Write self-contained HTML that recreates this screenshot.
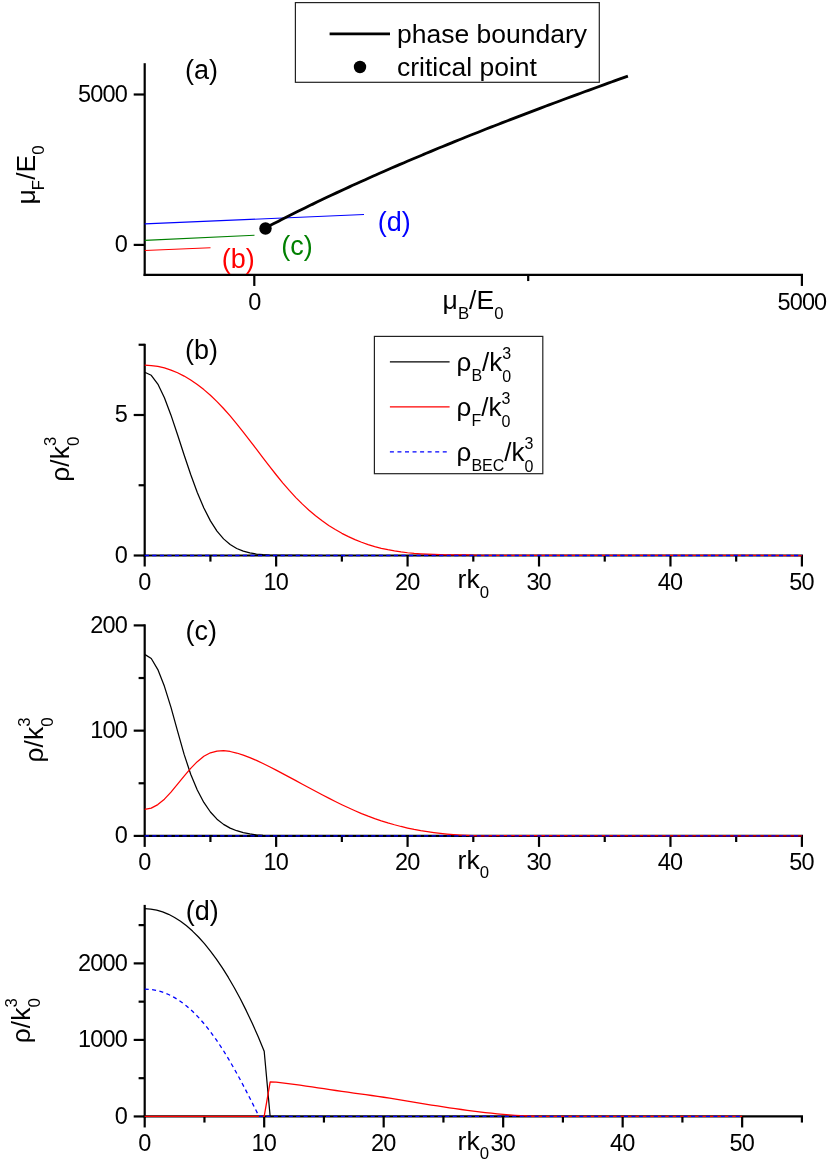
<!DOCTYPE html>
<html><head><meta charset="utf-8"><title>chart</title>
<style>
html,body{margin:0;padding:0;background:#fff;}
svg{display:block;font-family:"Liberation Sans", sans-serif;will-change:transform;opacity:0.999;}
text{font-family:"Liberation Sans", sans-serif;}
.tk{letter-spacing:-0.85px;}
</style></head>
<body>
<svg width="830" height="1165" viewBox="0 0 830 1165">
<rect x="0" y="0" width="830" height="1165" fill="#fff"/>
<line x1="144.70" y1="63.20" x2="144.70" y2="276.05" stroke="#000" stroke-width="2.2" />
<line x1="143.60" y1="274.95" x2="803.00" y2="274.95" stroke="#000" stroke-width="2.2" />
<line x1="133.70" y1="94.50" x2="144.70" y2="94.50" stroke="#000" stroke-width="2.2" />
<line x1="133.70" y1="244.90" x2="144.70" y2="244.90" stroke="#000" stroke-width="2.2" />
<line x1="254.30" y1="274.95" x2="254.30" y2="285.95" stroke="#000" stroke-width="2.2" />
<line x1="801.90" y1="274.95" x2="801.90" y2="285.95" stroke="#000" stroke-width="2.2" />
<line x1="528.20" y1="274.95" x2="528.20" y2="281.05" stroke="#000" stroke-width="2.2" />
<text x="126.95" y="101.80" font-size="23.5" text-anchor="end" fill="#000" class="tk">5000</text>
<text x="126.95" y="252.20" font-size="23.5" text-anchor="end" fill="#000" class="tk">0</text>
<text x="254.30" y="309.55" font-size="23.5" text-anchor="middle" fill="#000" class="tk">0</text>
<text x="801.90" y="309.55" font-size="23.5" text-anchor="middle" fill="#000" class="tk">5000</text>
<line x1="144.70" y1="223.90" x2="364.00" y2="214.50" stroke="#0000ff" stroke-width="1.15" />
<line x1="144.70" y1="240.40" x2="254.50" y2="235.30" stroke="#008000" stroke-width="1.15" />
<line x1="144.70" y1="250.50" x2="210.50" y2="247.70" stroke="#ff0000" stroke-width="1.15" />
<path d="M265.50,227.91 C266.81,227.23 270.75,225.17 273.38,223.81 C276.00,222.46 278.63,221.11 281.26,219.77 C283.88,218.43 286.51,217.10 289.13,215.78 C291.76,214.46 294.39,213.15 297.01,211.85 C299.64,210.54 302.27,209.25 304.89,207.96 C307.52,206.67 310.14,205.39 312.77,204.12 C315.40,202.85 318.02,201.59 320.65,200.33 C323.27,199.07 325.90,197.82 328.53,196.58 C331.15,195.34 333.78,194.11 336.40,192.88 C339.03,191.65 341.66,190.43 344.28,189.22 C346.91,188.01 349.53,186.80 352.16,185.60 C354.79,184.40 357.41,183.21 360.04,182.02 C362.67,180.83 365.29,179.65 367.92,178.47 C370.54,177.30 373.17,176.13 375.80,174.97 C378.42,173.81 381.05,172.65 383.67,171.50 C386.30,170.35 388.93,169.20 391.55,168.06 C394.18,166.92 396.80,165.78 399.43,164.65 C402.06,163.52 404.68,162.40 407.31,161.28 C409.93,160.16 412.56,159.05 415.19,157.94 C417.81,156.83 420.44,155.73 423.07,154.63 C425.69,153.53 428.32,152.43 430.94,151.34 C433.57,150.25 436.20,149.17 438.82,148.08 C441.45,147.00 444.07,145.93 446.70,144.85 C449.33,143.78 451.95,142.71 454.58,141.65 C457.20,140.58 459.83,139.52 462.46,138.47 C465.08,137.41 467.71,136.36 470.33,135.31 C472.96,134.26 475.59,133.22 478.21,132.18 C480.84,131.14 483.47,130.10 486.09,129.07 C488.72,128.03 491.34,127.00 493.97,125.98 C496.60,124.95 499.22,123.93 501.85,122.91 C504.47,121.89 507.10,120.87 509.73,119.86 C512.35,118.85 514.98,117.84 517.60,116.83 C520.23,115.82 522.86,114.82 525.48,113.82 C528.11,112.82 530.73,111.82 533.36,110.82 C535.99,109.83 538.61,108.84 541.24,107.85 C543.87,106.86 546.49,105.87 549.12,104.89 C551.74,103.91 554.37,102.92 557.00,101.95 C559.62,100.97 562.25,99.99 564.87,99.02 C567.50,98.05 570.13,97.07 572.75,96.11 C575.38,95.14 578.00,94.17 580.63,93.21 C583.26,92.24 585.88,91.28 588.51,90.32 C591.13,89.37 593.76,88.41 596.39,87.45 C599.01,86.50 601.64,85.55 604.27,84.60 C606.89,83.65 609.52,82.70 612.14,81.75 C614.77,80.81 617.40,79.86 620.02,78.92 C622.65,77.98 626.59,76.57 627.90,76.10" fill="none" stroke="#000" stroke-width="2.8" stroke-linecap="butt"/>
<circle cx="265.5" cy="228.5" r="6.2" fill="#000"/>
<text x="185.00" y="78.60" font-size="27" text-anchor="start" fill="#000" >(a)</text>
<text x="221.70" y="267.60" font-size="27" text-anchor="start" fill="#ff0000" >(b)</text>
<text x="281.30" y="254.90" font-size="27" text-anchor="start" fill="#008000" >(c)</text>
<text x="377.80" y="231.00" font-size="27" text-anchor="start" fill="#0000ff" >(d)</text>
<rect x="295.4" y="2.6" width="303.9" height="79.7" fill="#fff" stroke="#222" stroke-width="1.2"/>
<line x1="329.60" y1="33.90" x2="390.00" y2="33.90" stroke="#000" stroke-width="2.6" />
<circle cx="360" cy="67" r="6.2" fill="#000"/>
<text x="397.00" y="43.20" font-size="26.5" text-anchor="start" fill="#000" >phase boundary</text>
<text x="397.00" y="75.60" font-size="26.5" text-anchor="start" fill="#000" >critical point</text>
<text x="442.6" y="309.2" font-size="26.5">&#956;<tspan font-size="16.8" dy="9.3">B</tspan><tspan dy="-9.3">/E</tspan><tspan font-size="16.8" dy="9.3">0</tspan></text>
<text transform="translate(35.1,204.6) rotate(-90)" font-size="26.5">&#956;<tspan font-size="16.8" dx="-0.8" dy="9.3">F</tspan><tspan dy="-9.3">/E</tspan><tspan font-size="16.8" dy="9.3">0</tspan></text>
<line x1="144.70" y1="343.80" x2="144.70" y2="556.60" stroke="#000" stroke-width="2.2" />
<line x1="143.60" y1="555.50" x2="803.00" y2="555.50" stroke="#000" stroke-width="2.2" />
<line x1="133.70" y1="555.50" x2="144.70" y2="555.50" stroke="#000" stroke-width="2.2" />
<text x="126.95" y="562.80" font-size="23.5" text-anchor="end" fill="#000" class="tk">0</text>
<line x1="133.70" y1="415.00" x2="144.70" y2="415.00" stroke="#000" stroke-width="2.2" />
<text x="126.95" y="422.30" font-size="23.5" text-anchor="end" fill="#000" class="tk">5</text>
<line x1="138.60" y1="485.25" x2="144.70" y2="485.25" stroke="#000" stroke-width="2.2" />
<line x1="138.60" y1="344.75" x2="144.70" y2="344.75" stroke="#000" stroke-width="2.2" />
<line x1="144.70" y1="555.50" x2="144.70" y2="566.50" stroke="#000" stroke-width="2.2" />
<line x1="210.42" y1="555.50" x2="210.42" y2="561.60" stroke="#000" stroke-width="2.2" />
<line x1="276.14" y1="555.50" x2="276.14" y2="566.50" stroke="#000" stroke-width="2.2" />
<line x1="341.86" y1="555.50" x2="341.86" y2="561.60" stroke="#000" stroke-width="2.2" />
<line x1="407.58" y1="555.50" x2="407.58" y2="566.50" stroke="#000" stroke-width="2.2" />
<line x1="473.30" y1="555.50" x2="473.30" y2="561.60" stroke="#000" stroke-width="2.2" />
<line x1="539.02" y1="555.50" x2="539.02" y2="566.50" stroke="#000" stroke-width="2.2" />
<line x1="604.74" y1="555.50" x2="604.74" y2="561.60" stroke="#000" stroke-width="2.2" />
<line x1="670.46" y1="555.50" x2="670.46" y2="566.50" stroke="#000" stroke-width="2.2" />
<line x1="736.18" y1="555.50" x2="736.18" y2="561.60" stroke="#000" stroke-width="2.2" />
<line x1="801.90" y1="555.50" x2="801.90" y2="566.50" stroke="#000" stroke-width="2.2" />
<text x="144.30" y="589.80" font-size="23.5" text-anchor="middle" fill="#000" class="tk">0</text>
<text x="275.74" y="589.80" font-size="23.5" text-anchor="middle" fill="#000" class="tk">10</text>
<text x="407.18" y="589.80" font-size="23.5" text-anchor="middle" fill="#000" class="tk">20</text>
<text x="538.62" y="589.80" font-size="23.5" text-anchor="middle" fill="#000" class="tk">30</text>
<text x="670.06" y="589.80" font-size="23.5" text-anchor="middle" fill="#000" class="tk">40</text>
<text x="801.50" y="589.80" font-size="23.5" text-anchor="middle" fill="#000" class="tk">50</text>
<text x="457.60" y="588.40" font-size="26.5">rk<tspan font-size="16.8" dy="9.3">0</tspan></text>
<text transform="translate(68.90,481.80) rotate(-90)" font-size="26.5">&#961;/k<tspan font-size="16.8" dy="-13.2">3</tspan><tspan font-size="16.8" dx="-9.34" dy="23.2">0</tspan></text>
<text x="185.00" y="359.30" font-size="27" text-anchor="start" fill="#000" >(b)</text>
<path d="M144.70,372.27 L151.27,375.30 L157.84,384.09 L164.42,397.79 L170.99,415.16 L177.56,434.71 L184.13,454.94 L190.70,474.53 L197.28,492.44 L203.85,508.00 L210.42,520.89 L216.99,531.11 L223.56,538.88 L230.14,544.54 L236.71,548.51 L243.28,551.19 L249.85,552.93 L256.42,554.02 L263.00,554.67 L269.57,555.05 L276.14,555.27 L282.71,555.38 L289.28,555.44 L295.86,555.47 L302.43,555.49" fill="none" stroke="#000" stroke-width="1.25" stroke-linejoin="round"/>
<path d="M144.70,365.22 L151.27,365.52 L157.84,366.43 L164.42,367.94 L170.99,370.05 L177.56,372.76 L184.13,376.08 L190.70,379.99 L197.28,384.50 L203.85,389.60 L210.42,395.30 L216.99,401.60 L223.56,408.48 L230.14,415.93 L236.71,423.83 L243.28,432.08 L249.85,440.57 L256.42,449.18 L263.00,457.83 L269.57,466.38 L276.14,474.74 L282.71,482.80 L289.28,490.45 L295.86,497.57 L302.43,504.15 L309.00,510.21 L315.57,515.75 L322.14,520.81 L328.72,525.41 L335.29,529.57 L341.86,533.32 L348.43,536.67 L355.00,539.64 L361.58,542.27 L368.15,544.57 L374.72,546.57 L381.29,548.28 L387.86,549.73 L394.44,550.95 L401.01,551.95 L407.58,552.75 L414.15,553.39 L420.72,553.87 L427.30,554.23 L433.87,554.49 L440.44,554.66 L447.01,554.78 L453.58,554.86 L460.16,554.92 L466.73,554.99 L473.30,555.09 L479.87,555.25 L486.44,555.48 L801.90,555.50" fill="none" stroke="#ff0000" stroke-width="1.25" stroke-linejoin="round"/>
<line x1="144.70" y1="555.50" x2="801.90" y2="555.50" stroke="#0000ff" stroke-width="1.3" stroke-dasharray="4.2 3.35"/>
<rect x="374.4" y="336.4" width="168.4" height="137.3" fill="#fff" stroke="#222" stroke-width="1.2"/>
<line x1="389.90" y1="361.85" x2="449.60" y2="361.85" stroke="#000" stroke-width="1.3" />
<line x1="389.90" y1="406.95" x2="449.60" y2="406.95" stroke="#ff0000" stroke-width="1.3" />
<line x1="389.9" y1="451.95" x2="448" y2="451.95" stroke="#0000ff" stroke-width="1.3" stroke-dasharray="4 3.55"/>
<text x="456.6" y="370.90" font-size="26">&#961;<tspan font-size="16" dy="9.6">B</tspan><tspan dy="-9.6">/k</tspan><tspan font-size="16" dy="-12.4">3</tspan><tspan font-size="16" dx="-8.9" dy="23.2">0</tspan></text>
<text x="456.6" y="416.00" font-size="26">&#961;<tspan font-size="16" dy="9.6">F</tspan><tspan dy="-9.6">/k</tspan><tspan font-size="16" dy="-12.4">3</tspan><tspan font-size="16" dx="-8.9" dy="23.2">0</tspan></text>
<text x="456.6" y="461.00" font-size="26">&#961;<tspan font-size="16" dy="9.6">BEC</tspan><tspan dy="-9.6">/k</tspan><tspan font-size="16" dy="-12.4">3</tspan><tspan font-size="16" dx="-8.9" dy="23.2">0</tspan></text>
<line x1="144.70" y1="624.30" x2="144.70" y2="837.00" stroke="#000" stroke-width="2.2" />
<line x1="143.60" y1="835.90" x2="803.00" y2="835.90" stroke="#000" stroke-width="2.2" />
<line x1="133.70" y1="835.90" x2="144.70" y2="835.90" stroke="#000" stroke-width="2.2" />
<text x="126.95" y="843.20" font-size="23.5" text-anchor="end" fill="#000" class="tk">0</text>
<line x1="133.70" y1="730.65" x2="144.70" y2="730.65" stroke="#000" stroke-width="2.2" />
<text x="126.95" y="737.95" font-size="23.5" text-anchor="end" fill="#000" class="tk">100</text>
<line x1="133.70" y1="625.40" x2="144.70" y2="625.40" stroke="#000" stroke-width="2.2" />
<text x="126.95" y="632.70" font-size="23.5" text-anchor="end" fill="#000" class="tk">200</text>
<line x1="138.60" y1="783.27" x2="144.70" y2="783.27" stroke="#000" stroke-width="2.2" />
<line x1="138.60" y1="678.02" x2="144.70" y2="678.02" stroke="#000" stroke-width="2.2" />
<line x1="144.70" y1="835.90" x2="144.70" y2="846.90" stroke="#000" stroke-width="2.2" />
<line x1="210.42" y1="835.90" x2="210.42" y2="842.00" stroke="#000" stroke-width="2.2" />
<line x1="276.14" y1="835.90" x2="276.14" y2="846.90" stroke="#000" stroke-width="2.2" />
<line x1="341.86" y1="835.90" x2="341.86" y2="842.00" stroke="#000" stroke-width="2.2" />
<line x1="407.58" y1="835.90" x2="407.58" y2="846.90" stroke="#000" stroke-width="2.2" />
<line x1="473.30" y1="835.90" x2="473.30" y2="842.00" stroke="#000" stroke-width="2.2" />
<line x1="539.02" y1="835.90" x2="539.02" y2="846.90" stroke="#000" stroke-width="2.2" />
<line x1="604.74" y1="835.90" x2="604.74" y2="842.00" stroke="#000" stroke-width="2.2" />
<line x1="670.46" y1="835.90" x2="670.46" y2="846.90" stroke="#000" stroke-width="2.2" />
<line x1="736.18" y1="835.90" x2="736.18" y2="842.00" stroke="#000" stroke-width="2.2" />
<line x1="801.90" y1="835.90" x2="801.90" y2="846.90" stroke="#000" stroke-width="2.2" />
<text x="144.30" y="870.20" font-size="23.5" text-anchor="middle" fill="#000" class="tk">0</text>
<text x="275.74" y="870.20" font-size="23.5" text-anchor="middle" fill="#000" class="tk">10</text>
<text x="407.18" y="870.20" font-size="23.5" text-anchor="middle" fill="#000" class="tk">20</text>
<text x="538.62" y="870.20" font-size="23.5" text-anchor="middle" fill="#000" class="tk">30</text>
<text x="670.06" y="870.20" font-size="23.5" text-anchor="middle" fill="#000" class="tk">40</text>
<text x="801.50" y="870.20" font-size="23.5" text-anchor="middle" fill="#000" class="tk">50</text>
<text x="457.60" y="869.10" font-size="26.5">rk<tspan font-size="16.8" dy="9.3">0</tspan></text>
<text transform="translate(42.70,762.50) rotate(-90)" font-size="26.5">&#961;/k<tspan font-size="16.8" dy="-13.2">3</tspan><tspan font-size="16.8" dx="-9.34" dy="23.2">0</tspan></text>
<text x="185.60" y="639.80" font-size="27" text-anchor="start" fill="#000" >(c)</text>
<path d="M144.70,654.37 L151.27,658.50 L157.84,669.59 L164.42,686.32 L170.99,707.38 L177.56,731.10 L184.13,754.38 L190.70,774.18 L197.28,790.02 L203.85,802.43 L210.42,811.98 L216.99,819.15 L223.56,824.38 L230.14,828.10 L236.71,830.71 L243.28,832.60 L249.85,833.96 L256.42,834.88 L263.00,835.44 L269.57,835.73 L276.14,835.84 L282.71,835.87 L289.28,835.90" fill="none" stroke="#000" stroke-width="1.25" stroke-linejoin="round"/>
<path d="M144.70,809.33 L151.27,808.08 L157.84,804.58 L164.42,799.15 L170.99,792.13 L177.56,784.19 L184.13,776.08 L190.70,768.40 L197.28,761.65 L203.85,756.31 L210.42,752.82 L216.99,751.07 L223.56,750.73 L230.14,751.49 L236.71,753.02 L243.28,755.08 L249.85,757.56 L256.42,760.39 L263.00,763.48 L269.57,766.76 L276.14,770.15 L282.71,773.61 L289.28,777.12 L295.86,780.66 L302.43,784.21 L309.00,787.75 L315.57,791.27 L322.14,794.74 L328.72,798.15 L335.29,801.47 L341.86,804.69 L348.43,807.79 L355.00,810.75 L361.58,813.55 L368.15,816.17 L374.72,818.60 L381.29,820.84 L387.86,822.89 L394.44,824.77 L401.01,826.48 L407.58,828.02 L414.15,829.41 L420.72,830.64 L427.30,831.72 L433.87,832.66 L440.44,833.46 L447.01,834.14 L453.58,834.69 L460.16,835.12 L466.73,835.44 L473.30,835.65 L479.87,835.76 L486.44,835.77 L493.02,835.70 L499.59,835.54 L801.90,835.90" fill="none" stroke="#ff0000" stroke-width="1.25" stroke-linejoin="round"/>
<line x1="144.70" y1="835.90" x2="801.90" y2="835.90" stroke="#0000ff" stroke-width="1.3" stroke-dasharray="4.2 3.35"/>
<line x1="144.70" y1="904.90" x2="144.70" y2="1117.55" stroke="#000" stroke-width="2.2" />
<line x1="143.60" y1="1116.45" x2="803.00" y2="1116.45" stroke="#000" stroke-width="2.2" />
<line x1="133.70" y1="1116.45" x2="144.70" y2="1116.45" stroke="#000" stroke-width="2.2" />
<text x="126.95" y="1123.75" font-size="23.5" text-anchor="end" fill="#000" class="tk">0</text>
<line x1="133.70" y1="1039.92" x2="144.70" y2="1039.92" stroke="#000" stroke-width="2.2" />
<text x="126.95" y="1047.22" font-size="23.5" text-anchor="end" fill="#000" class="tk">1000</text>
<line x1="133.70" y1="963.39" x2="144.70" y2="963.39" stroke="#000" stroke-width="2.2" />
<text x="126.95" y="970.69" font-size="23.5" text-anchor="end" fill="#000" class="tk">2000</text>
<line x1="138.60" y1="1078.18" x2="144.70" y2="1078.18" stroke="#000" stroke-width="2.2" />
<line x1="138.60" y1="1001.66" x2="144.70" y2="1001.66" stroke="#000" stroke-width="2.2" />
<line x1="138.60" y1="925.12" x2="144.70" y2="925.12" stroke="#000" stroke-width="2.2" />
<line x1="144.70" y1="1116.45" x2="144.70" y2="1127.45" stroke="#000" stroke-width="2.2" />
<line x1="204.45" y1="1116.45" x2="204.45" y2="1122.55" stroke="#000" stroke-width="2.2" />
<line x1="264.19" y1="1116.45" x2="264.19" y2="1127.45" stroke="#000" stroke-width="2.2" />
<line x1="323.94" y1="1116.45" x2="323.94" y2="1122.55" stroke="#000" stroke-width="2.2" />
<line x1="383.68" y1="1116.45" x2="383.68" y2="1127.45" stroke="#000" stroke-width="2.2" />
<line x1="443.43" y1="1116.45" x2="443.43" y2="1122.55" stroke="#000" stroke-width="2.2" />
<line x1="503.17" y1="1116.45" x2="503.17" y2="1127.45" stroke="#000" stroke-width="2.2" />
<line x1="562.92" y1="1116.45" x2="562.92" y2="1122.55" stroke="#000" stroke-width="2.2" />
<line x1="622.66" y1="1116.45" x2="622.66" y2="1127.45" stroke="#000" stroke-width="2.2" />
<line x1="682.41" y1="1116.45" x2="682.41" y2="1122.55" stroke="#000" stroke-width="2.2" />
<line x1="742.15" y1="1116.45" x2="742.15" y2="1127.45" stroke="#000" stroke-width="2.2" />
<line x1="801.90" y1="1116.45" x2="801.90" y2="1122.55" stroke="#000" stroke-width="2.2" />
<text x="144.30" y="1150.75" font-size="23.5" text-anchor="middle" fill="#000" class="tk">0</text>
<text x="263.79" y="1150.75" font-size="23.5" text-anchor="middle" fill="#000" class="tk">10</text>
<text x="383.28" y="1150.75" font-size="23.5" text-anchor="middle" fill="#000" class="tk">20</text>
<text x="502.77" y="1150.75" font-size="23.5" text-anchor="middle" fill="#000" class="tk">30</text>
<text x="622.26" y="1150.75" font-size="23.5" text-anchor="middle" fill="#000" class="tk">40</text>
<text x="741.75" y="1150.75" font-size="23.5" text-anchor="middle" fill="#000" class="tk">50</text>
<text x="457.60" y="1149.85" font-size="26.5">rk<tspan font-size="16.8" dy="9.3">0</tspan></text>
<text transform="translate(30.20,1043.20) rotate(-90)" font-size="26.5">&#961;/k<tspan font-size="16.8" dy="-13.2">3</tspan><tspan font-size="16.8" dx="-9.34" dy="23.2">0</tspan></text>
<text x="185.70" y="919.90" font-size="27" text-anchor="start" fill="#000" >(d)</text>
<path d="M144.70,908.73 L150.67,909.08 L156.65,910.13 L162.62,911.87 L168.60,914.32 L174.57,917.46 L180.55,921.30 L186.52,925.84 L192.50,931.08 L198.47,937.02 L204.45,943.67 L210.42,951.03 L216.39,959.11 L222.37,967.91 L228.34,977.45 L234.32,987.74 L240.29,998.80 L246.27,1010.65 L252.24,1023.32 L258.22,1036.84 L264.19,1051.24 L270.17,1116.45" fill="none" stroke="#000" stroke-width="1.25" stroke-linejoin="round"/>
<path d="M144.70,1116.45 L264.19,1116.45 L270.17,1081.95 L276.14,1082.19 L282.11,1082.88 L288.09,1083.61 L294.06,1084.40 L300.04,1085.21 L306.01,1086.06 L311.99,1086.93 L317.96,1087.81 L323.94,1088.71 L329.91,1089.60 L335.89,1090.49 L341.86,1091.37 L347.83,1092.23 L353.81,1093.07 L359.78,1093.88 L365.76,1094.69 L371.73,1095.51 L377.71,1096.35 L383.68,1097.25 L389.66,1098.19 L395.63,1099.16 L401.61,1100.14 L407.58,1101.13 L413.55,1102.11 L419.53,1103.09 L425.50,1104.06 L431.48,1105.02 L437.45,1105.96 L443.43,1106.88 L449.40,1107.78 L455.38,1108.65 L461.35,1109.50 L467.33,1110.31 L473.30,1111.09 L479.27,1111.83 L485.25,1112.53 L491.22,1113.18 L497.20,1113.79 L503.17,1114.34 L509.15,1114.85 L515.12,1115.29 L521.10,1115.67 L527.07,1115.99 L533.05,1116.25 L539.02,1116.43 L544.99,1116.45 L550.97,1116.45 L556.94,1116.45 L562.92,1116.40 L742.15,1116.45" fill="none" stroke="#ff0000" stroke-width="1.3" stroke-linejoin="round"/>
<path d="M144.70,989.05 L150.67,989.39 L156.65,990.41 L162.62,992.12 L168.60,994.52 L174.57,997.63 L180.55,1001.46 L186.52,1006.01 L192.50,1011.30 L198.47,1017.34 L204.45,1024.12 L210.42,1031.66 L216.39,1039.93 L222.37,1048.92 L228.34,1058.60 L234.32,1068.91 L240.29,1079.79 L246.27,1091.15 L252.24,1102.87 L258.22,1114.80 L259.41,1116.45 L742.15,1116.45" fill="none" stroke="#0000ff" stroke-width="1.3" stroke-dasharray="4 3.45"/>
</svg>
</body></html>
